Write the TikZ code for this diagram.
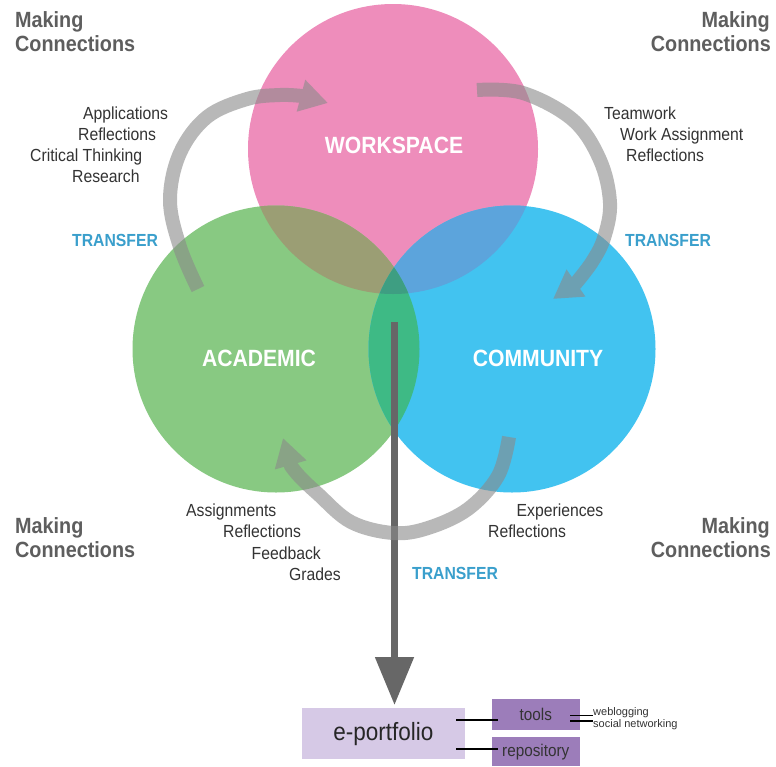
\documentclass[tikz,border=0pt]{standalone}
\usepackage{fontspec}
\setmainfont[FakeStretch=0.9]{Liberation Sans}
\newfontfamily\widesans{Liberation Sans}
\usetikzlibrary{arrows.meta,calc}
\definecolor{pinkc}{HTML}{EE8DBB}
\definecolor{greenc}{HTML}{88C982}
\definecolor{bluec}{HTML}{42C3F0}
\definecolor{pgc}{HTML}{9B9E74}
\definecolor{pbc}{HTML}{5CA4DC}
\definecolor{gbc}{HTML}{3EBA85}
\definecolor{pgbc}{HTML}{3E9E82}
\definecolor{arrowgray}{HTML}{8A8A8A}
\definecolor{darkarrow}{HTML}{676767}
\definecolor{transferc}{HTML}{3A9FCC}
\definecolor{labelc}{HTML}{333333}
\definecolor{mcc}{HTML}{5E5E5E}
\definecolor{eplight}{HTML}{D6C9E6}
\definecolor{toolc}{HTML}{9C7DBA}
\begin{document}
\begin{tikzpicture}[x=1pt,y=-1pt,
  mc/.style={font=\fontsize{22}{24}\selectfont\bfseries, text=mcc, inner sep=0},
  lbl/.style={font=\fontsize{17.5}{21}\selectfont, text=labelc, inner sep=0, anchor=base west},
  trn/.style={font=\fontsize{17.5}{21}\selectfont\bfseries, text=transferc, inner sep=0, anchor=base west},
  circtext/.style={font=\fontsize{23.5}{26}\selectfont\bfseries, text=white, inner sep=0},
  tarrow/.style={draw=arrowgray, line width=14pt, -{Triangle[width=31pt,length=28pt]}},
  purplebox/.style={fill=toolc, inner sep=0, minimum width=88.3pt, text=labelc, font=\fontsize{17}{20}\selectfont},
  conn/.style={draw=black, line width=1.4pt},
  small/.style={font=\widesans\fontsize{11}{12}\selectfont, text=labelc, inner sep=0.5pt, anchor=west}
]
\useasboundingbox[fill=white] (0,0) rectangle (776,766);

% circles
\coordinate (W) at (393,149);
\coordinate (A) at (276,349);
\coordinate (C) at (512,349);
\fill[pinkc] (W) circle (145pt);
\fill[greenc] (A) circle (143.5pt);
\fill[bluec] (C) circle (143.5pt);
\begin{scope}
  \clip (W) circle (145pt);
  \fill[pgc] (A) circle (143.5pt);
  \fill[pbc] (C) circle (143.5pt);
\end{scope}
\begin{scope}
  \clip (A) circle (143.5pt);
  \fill[gbc] (C) circle (143.5pt);
  \clip (C) circle (143.5pt);
  \fill[pgbc] (W) circle (145pt);
\end{scope}

\node[circtext] (ws) at (394,145) {WORKSPACE};
\node[circtext] (ac) at (259,358) {ACADEMIC};
\node[circtext] (cm) at (538,358) {COMMUNITY};

% e-portfolio boxes
\node[fill=eplight, inner sep=0, minimum width=163.3pt, minimum height=50.7pt,
      font=\fontsize{25}{28}\selectfont, text=black!85] (ep) at (383.4,733.7) {e-portfolio};
\node[purplebox, minimum height=30.7pt] (tools) at (535.8,714.7) {tools};
\node[purplebox, minimum height=28.7pt] (repo) at (535.8,751.7) {repository};
\node[small] (wb) at (592.5,712.5) {weblogging};
\node[small] (sn) at (592.5,725) {social networking};
\draw[conn] ([xshift=-9pt,yshift=13.7pt]ep.east) -- ([xshift=6.6pt,yshift=-5.3pt]tools.west);
\draw[conn] ([xshift=-9pt,yshift=-15.3pt]ep.east) -- ([xshift=6.6pt,yshift=2.7pt]repo.west);
\draw[conn] ([xshift=-10pt,yshift=-1pt]tools.east) coordinate (p1) -- (p1 -| wb.west);
\draw[conn] ([xshift=-10pt,yshift=-6.3pt]tools.east) coordinate (p2) -- (p2 -| sn.west);

% dark arrow to e-portfolio
\coordinate (start) at (394.5,322);
\draw[darkarrow, line width=7.7pt, -{Triangle[width=37pt,length=48pt]}, shorten >=3pt]
  (start) -- (start |- ep.north);

% gray transfer arrows
\begin{scope}[transparency group, opacity=0.6]
\draw[tarrow] plot[smooth, tension=0.6] coordinates {(198,289) (180,247) (170,200) (180,153) (207,117) (247,99) (280,95) (302,96)} -- (328,103);
\end{scope}
\begin{scope}[transparency group, opacity=0.6]
\draw[tarrow] plot[smooth, tension=0.6] coordinates {(477,90) (523,93) (573,120) (600,160) (610,203) (604,238) (592,262) (576,283)} -- (553,299);
\end{scope}
\begin{scope}[transparency group, opacity=0.6]
\draw[tarrow] plot[smooth, tension=0.6] coordinates {(509,437) (498,476) (468,509) (428,528) (393,533) (351,522) (318,494) (300,477) (291,466)} -- (283,438);
\end{scope}

% Making Connections
\node[mc, anchor=base west] (mtl1) at (15,27) {Making};
\node[mc, anchor=base west] (mtl2) at (15,51) {Connections};
\node[mc, anchor=base east] (mtr1) at (770,27) {Making};
\node[mc, anchor=base east] (mtr2) at (771,51) {Connections};
\node[mc, anchor=base west] (mbl1) at (15,533) {Making};
\node[mc, anchor=base west] (mbl2) at (15,557) {Connections};
\node[mc, anchor=base east] (mbr1) at (770,533) {Making};
\node[mc, anchor=base east] (mbr2) at (771,557) {Connections};

% labels
\node[lbl] (l1) at (83,119) {Applications};
\node[lbl] (l2) at (78,140) {Reflections};
\node[lbl] (l3) at (30,161) {Critical Thinking};
\node[lbl] (l4) at (72,182) {Research};
\node[lbl] (r1) at (604,119) {Teamwork};
\node[lbl] (r2) at (620,140) {Work Assignment};
\node[lbl] (r3) at (626,161) {Reflections};
\node[lbl] (b1) at (186,516) {Assignments};
\node[lbl] (b2) at (223,537.5) {Reflections};
\node[lbl] (b3) at (251.5,559) {Feedback};
\node[lbl] (b4) at (289,580) {Grades};
\node[lbl] (e1) at (516.5,516) {Experiences};
\node[lbl] (e2) at (488,537.5) {Reflections};

\node[trn] (t1) at (72,246) {TRANSFER};
\node[trn] (t2) at (625,246) {TRANSFER};
\node[trn] (t3) at (412,579) {TRANSFER};
\end{tikzpicture}
\end{document}
